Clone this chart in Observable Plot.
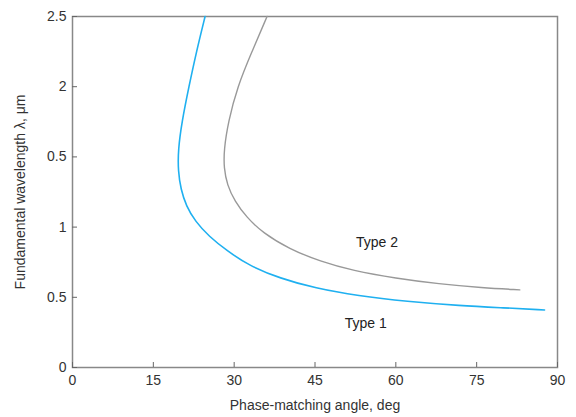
<!DOCTYPE html>
<html><head><meta charset="utf-8">
<script src="https://cdn.jsdelivr.net/npm/d3@7"></script>
<script src="https://cdn.jsdelivr.net/npm/@observablehq/plot@0.6"></script>
<style>body{margin:0;background:#fff;font-family:"Liberation Sans",Arial,sans-serif}</style>
</head><body><div id="chart"></div>
<script>
const type1Angle = [24.6, 23.0, 21.6, 20.3, 19.6, 19.6, 20.1, 21.1, 22.8, 25.3, 28.7, 32.8, 38.5, 45.0, 53.0, 62.0, 72.0, 80.0, 87.6];
const type1Wave  = [2.50, 2.25, 2.00, 1.75, 1.55, 1.40, 1.27, 1.15, 1.04, 0.935, 0.83, 0.725, 0.635, 0.565, 0.51, 0.47, 0.44, 0.425, 0.41];
const type2Angle = [36.1, 33.3, 30.6, 28.9, 28.1, 28.1, 28.7, 30.1, 32.3, 35.3, 40.2, 46.0, 52.0, 60.0, 68.0, 76.0, 83.0];
const type2Wave  = [2.50, 2.25, 2.00, 1.75, 1.55, 1.42, 1.30, 1.185, 1.07, 0.96, 0.845, 0.755, 0.69, 0.635, 0.595, 0.568, 0.553];
const xTicks = [0, 15, 30, 45, 60, 75, 90];
const yTicks = [0, 0.5, 1, 1.5, 2, 2.5];
const yTickLabels = ["0", "0.5", "1", "0.5", "2", "2.5"];
const seriesLabels = [{name: "Type 2", angle: 56.5, wave: 0.89}, {name: "Type 1", angle: 54.4, wave: 0.31}];

const t1 = type1Angle.map((a, i) => ({angle: a, wave: type1Wave[i]}));
const t2 = type2Angle.map((a, i) => ({angle: a, wave: type2Wave[i]}));

const chart = Plot.plot({
  width: 576, height: 417,
  marginLeft: 72, marginRight: 19, marginTop: 16, marginBottom: 50,
  style: {fontFamily: "Liberation Sans, Arial, sans-serif", fontSize: "14px", color: "#333"},
  x: {domain: [0, 90]},
  y: {domain: [0, 2.5]},
  marks: [
    Plot.frame({stroke: "#888", strokeWidth: 1.5}),
    Plot.axisX({ticks: xTicks, tickSize: -5, text: null, stroke: "#666", label: null}),
    Plot.axisX({ticks: xTicks, tickSize: 0, tickPadding: 8, fontSize: 14, label: "Phase-matching angle, deg", labelAnchor: "center", labelArrow: "none", labelOffset: 42, fill: "#333"}),
    Plot.axisY({ticks: yTicks, tickSize: -5, text: null, stroke: "#666", label: null}),
    Plot.axisY({ticks: yTicks, tickSize: 0, tickPadding: 6, fontSize: 14, tickFormat: (d) => yTickLabels[yTicks.indexOf(d)], label: "Fundamental wavelength λ, μm", labelAnchor: "center", labelArrow: "none", labelOffset: 57, fill: "#333"}),
    Plot.line(t1, {x: "angle", y: "wave", stroke: "#1fb0f0", strokeWidth: 1.6, curve: "basis"}),
    Plot.line(t2, {x: "angle", y: "wave", stroke: "#999", strokeWidth: 1.4, curve: "basis"}),
    Plot.text(seriesLabels, {x: "angle", y: "wave", text: "name", fontSize: 14, fill: "#222", style: {wordSpacing: "4px"}})
  ]
});
document.getElementById("chart").appendChild(chart);
</script></body></html>
